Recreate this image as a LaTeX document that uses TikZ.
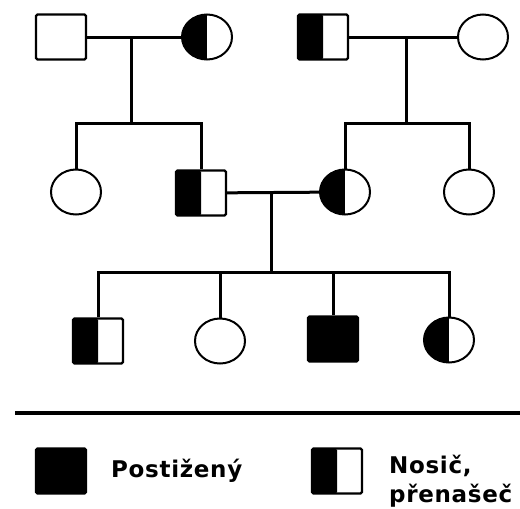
\documentclass[tikz,border=0pt]{standalone}
\usepackage{fontspec}
\usepackage{tikz}
\usetikzlibrary{shapes.geometric}
\newfontfamily\legendfont{DejaVu Sans}[LetterSpace=3]

\begin{document}
\begin{tikzpicture}[x=1pt,y=-1pt,
        male/.style={draw,line width=2.2pt,rounded corners=1.5pt,minimum width=50pt,minimum height=45pt,inner sep=0pt},
        female/.style={draw,ellipse,line width=2pt,minimum width=50pt,minimum height=45pt,inner sep=0pt},
        halfleft/.style={path picture={\fill[black] (path picture bounding box.south west) rectangle (path picture bounding box.north);}},
        affected/.style={fill=black},
        link/.style={line width=3pt},
        legendtext/.style={font=\legendfont\bfseries\fontsize{23}{27}\selectfont,inner sep=0pt,anchor=base west}]
                \useasboundingbox (0,0) rectangle (520,509);
                % first generation
                \node[male] (a) at (61,37) {};
                \node[female,halfleft] (b) at (207,37) {};
                \node[male,halfleft] (c) at (323,37) {};
                \node[female] (d) at (483,37) {};
                % second generation
                \node[female] (e) at (76,192) {};
                \node[male,halfleft] (f) at (201,193) {};
                \node[female,halfleft] (g) at (345,192) {};
                \node[female] (h) at (469,192) {};
                % third generation
                \node[male,halfleft] (i) at (98,341) {};
                \node[female] (j) at (220,341) {};
                \node[male,affected] (k) at (333,339) {};
                \node[female,halfleft] (l) at (449,340) {};

                \coordinate (m1) at (131,37);
                \coordinate (s1) at (131,123);
                \coordinate (m2) at (406,37);
                \coordinate (s2) at (406,123);
                \coordinate (m3) at (271,193);
                \coordinate (s3) at (271,272);

                \draw[link] (a) -- (b);
                \draw[link] (c) -- (d);
                \draw[link] (f) -- (g);
                \draw[link] (m1) -- (s1);
                \draw[link] (m2) -- (s2);
                \draw[link] (m3) -- (s3);
                \draw[link] (e.north) |- (s1) -| (f.north);
                \draw[link] (g.north) |- (s2) -| (h.north);
                \draw[link] (i.north) |- (s3) -| (l.north);
                \draw[link] (j.north) -- (j.north |- s3);
                \draw[link] (k.north) -- (k.north |- s3);

                % legend
                \draw[line width=4pt] (15,413) -- (520,413);
                \node[male,affected] (key1) at (61,471) {};
                \node[legendtext] (key1text) at (111,477) {Postižený};
                \node[male,halfleft] (key2) at (337,471) {};
                \node[legendtext] (key2text) at (389,473) {Nosič,};
                \node[legendtext] (key2more) at (389,502) {přenašeč};
            \end{tikzpicture}
\end{document}
